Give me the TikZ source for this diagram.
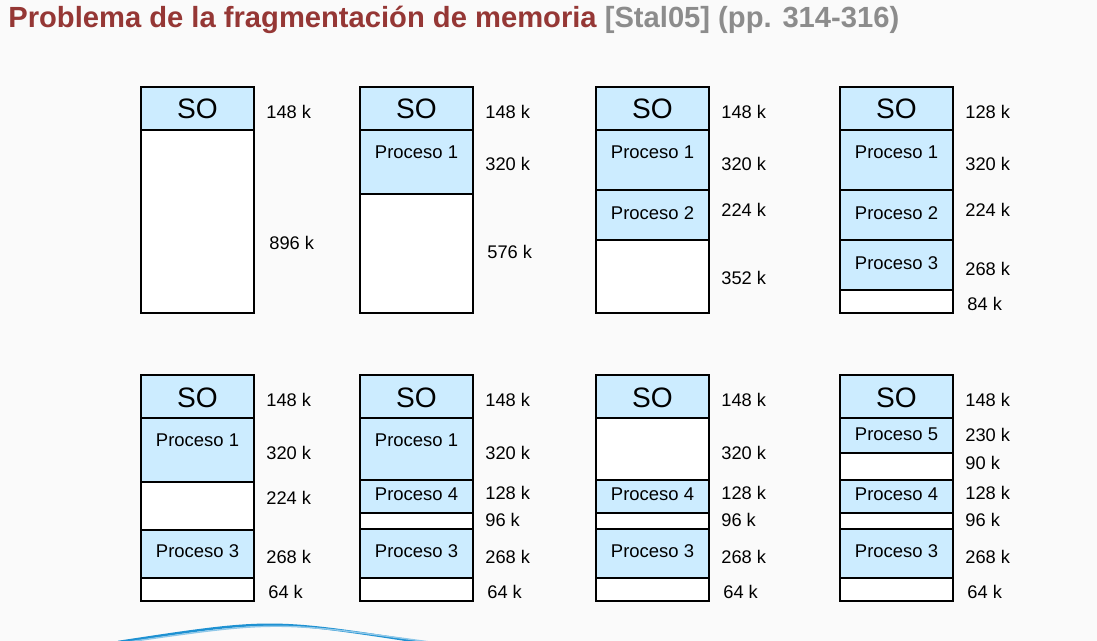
\documentclass[tikz,border=0pt]{standalone}
\usepackage{fontspec}
\setmainfont{Liberation Sans}
\usetikzlibrary{positioning}
\definecolor{titlered}{RGB}{149,55,53}
\definecolor{titlegray}{RGB}{140,140,140}
\definecolor{procblue}{RGB}{204,236,255}
\definecolor{curveblue}{RGB}{30,145,210}
\definecolor{bgpage}{RGB}{250,250,250}
\begin{document}
\begin{tikzpicture}[
    x=0.02cm, y=-0.02cm,
    hole/.style={draw=black, line width=0.8pt, fill=white},
    proc/.style={draw=black, line width=0.8pt, fill=procblue},
    sotext/.style={font=\fontsize{16}{18}\selectfont, inner sep=0pt},
    ptext/.style={font=\fontsize{10.5}{12}\selectfont, inner sep=0pt},
    size/.style={font=\fontsize{10.4}{12}\selectfont, inner sep=0pt, anchor=west}
]
\useasboundingbox[fill=bgpage] (0,0) rectangle (1097,641);
\node[anchor=base west, inner sep=0pt, font=\fontsize{16.6}{18}\selectfont\bfseries] (title) at (8,28)
    {\textcolor{titlered}{Problema de la fragmentación de memoria} \textcolor{titlegray}{[Stal05] (pp. 314-316)}};

% fila superior
\draw[proc] (141,87) rectangle (254,130);
\draw[hole] (141,130) rectangle (254,313);
\node[sotext] (so1) at (197.5,109) {SO};
\node[size] (a1) at (266,112) {148 k};
\node[size] (a2) at (269,243) {896 k};

\draw[proc] (360,87) rectangle (473,130);
\draw[proc] (360,130) rectangle (473,194);
\draw[hole] (360,194) rectangle (473,313);
\node[sotext] (so2) at (416.5,109) {SO};
\node[ptext] (p21) at (416.5,152) {Proceso 1};
\node[size] (b1) at (485,112) {148 k};
\node[size] (b2) at (485,164) {320 k};
\node[size] (b3) at (487,252) {576 k};

\draw[proc] (596,87) rectangle (709,130);
\draw[proc] (596,130) rectangle (709,190);
\draw[proc] (596,190) rectangle (709,240);
\draw[hole] (596,240) rectangle (709,313);
\node[sotext] (so3) at (652.5,109) {SO};
\node[ptext] (p31) at (652.5,152) {Proceso 1};
\node[ptext] (p32) at (652.5,213) {Proceso 2};
\node[size] (c1) at (721,112) {148 k};
\node[size] (c2) at (721,164) {320 k};
\node[size] (c3) at (721,210) {224 k};
\node[size] (c4) at (721,278) {352 k};

\draw[proc] (840,87) rectangle (953,130);
\draw[proc] (840,130) rectangle (953,190);
\draw[proc] (840,190) rectangle (953,240);
\draw[proc] (840,240) rectangle (953,290);
\draw[hole] (840,290) rectangle (953,313);
\node[sotext] (so4) at (896.5,109) {SO};
\node[ptext] (p41) at (896.5,152) {Proceso 1};
\node[ptext] (p42) at (896.5,213) {Proceso 2};
\node[ptext] (p43) at (896.5,263) {Proceso 3};
\node[size] (d1) at (965,112) {128 k};
\node[size] (d2) at (965,164) {320 k};
\node[size] (d3) at (965,210) {224 k};
\node[size] (d4) at (965,269) {268 k};
\node[size] (d5) at (967,304) {84 k};

% fila inferior
\draw[proc] (141,375) rectangle (254,418);
\draw[proc] (141,418) rectangle (254,482);
\draw[hole] (141,482) rectangle (254,530);
\draw[proc] (141,530) rectangle (254,578);
\draw[hole] (141,578) rectangle (254,601);
\node[sotext] (so5) at (197.5,398) {SO};
\node[ptext] (p51) at (197.5,440) {Proceso 1};
\node[ptext] (p53) at (197.5,551) {Proceso 3};
\node[size] (e1) at (266,400) {148 k};
\node[size] (e2) at (266,453) {320 k};
\node[size] (e3) at (266,498) {224 k};
\node[size] (e4) at (266,557) {268 k};
\node[size] (e5) at (268,592) {64 k};

\draw[proc] (360,375) rectangle (473,418);
\draw[proc] (360,418) rectangle (473,480);
\draw[proc] (360,480) rectangle (473,513);
\draw[hole] (360,513) rectangle (473,529);
\draw[proc] (360,529) rectangle (473,578);
\draw[hole] (360,578) rectangle (473,601);
\node[sotext] (so6) at (416.5,398) {SO};
\node[ptext] (p61) at (416.5,440) {Proceso 1};
\node[ptext] (p64) at (416.5,494) {Proceso 4};
\node[ptext] (p63) at (416.5,551) {Proceso 3};
\node[size] (f1) at (485,400) {148 k};
\node[size] (f2) at (485,453) {320 k};
\node[size] (f3) at (485,493) {128 k};
\node[size] (f4) at (485,520) {96 k};
\node[size] (f5) at (485,557) {268 k};
\node[size] (f6) at (487,592) {64 k};

\draw[proc] (596,375) rectangle (709,418);
\draw[hole] (596,418) rectangle (709,480);
\draw[proc] (596,480) rectangle (709,513);
\draw[hole] (596,513) rectangle (709,529);
\draw[proc] (596,529) rectangle (709,578);
\draw[hole] (596,578) rectangle (709,601);
\node[sotext] (so7) at (652.5,398) {SO};
\node[ptext] (p74) at (652.5,494) {Proceso 4};
\node[ptext] (p73) at (652.5,551) {Proceso 3};
\node[size] (g1) at (721,400) {148 k};
\node[size] (g2) at (721,453) {320 k};
\node[size] (g3) at (721,493) {128 k};
\node[size] (g4) at (721,520) {96 k};
\node[size] (g5) at (721,557) {268 k};
\node[size] (g6) at (723,592) {64 k};

\draw[proc] (840,375) rectangle (953,418);
\draw[proc] (840,418) rectangle (953,453);
\draw[hole] (840,453) rectangle (953,480);
\draw[proc] (840,480) rectangle (953,513);
\draw[hole] (840,513) rectangle (953,529);
\draw[proc] (840,529) rectangle (953,578);
\draw[hole] (840,578) rectangle (953,601);
\node[sotext] (so8) at (896.5,398) {SO};
\node[ptext] (p85) at (896.5,434) {Proceso 5};
\node[ptext] (p84) at (896.5,494) {Proceso 4};
\node[ptext] (p83) at (896.5,551) {Proceso 3};
\node[size] (h1) at (965,400) {148 k};
\node[size] (h2) at (965,435) {230 k};
\node[size] (h3) at (965,463) {90 k};
\node[size] (h4) at (965,493) {128 k};
\node[size] (h5) at (965,520) {96 k};
\node[size] (h6) at (965,557) {268 k};
\node[size] (h7) at (967,592) {64 k};

% curva decorativa
\draw[curveblue, line width=1.4pt] (118,642) .. controls (270,619) .. (420,642);
\draw[curveblue!50, line width=0.8pt] (128,642) .. controls (275,621) .. (430,642);
\end{tikzpicture}
\end{document}
